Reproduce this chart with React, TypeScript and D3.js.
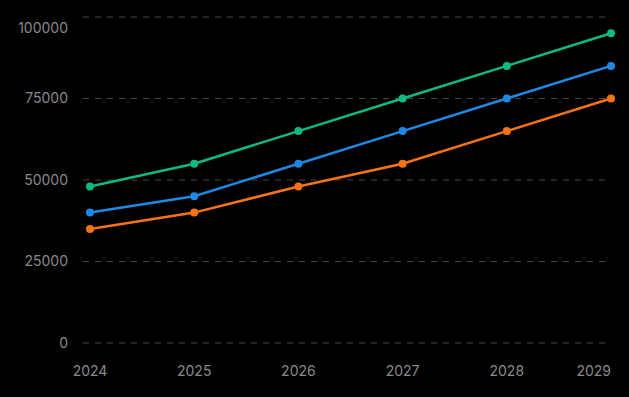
import React, { useRef, useEffect } from "react";
import * as d3 from "d3";

const years = [2024, 2025, 2026, 2027, 2028, 2029];
const yTicks = [0, 25000, 50000, 75000, 100000];
const greenSeries = [48000, 55000, 65000, 75000, 85000, 95000];
const blueSeries = [40000, 45000, 55000, 65000, 75000, 85000];
const orangeSeries = [35000, 40000, 48000, 55000, 65000, 75000];

const series = [
    { name: "green", values: greenSeries, color: "#10b981" },
    { name: "blue", values: blueSeries, color: "#1e88e5" },
    { name: "orange", values: orangeSeries, color: "#f97316" },
];

const W = 629;
const H = 397;

const App = () => {
    const svgRef = useRef<SVGSVGElement | null>(null);

    useEffect(() => {
        if (!svgRef.current) return;
        const svg = d3.select(svgRef.current);
        svg.selectAll("*").remove();

        const margin = { top: 17, right: 18, bottom: 54, left: 90 };
        const gridLeft = 83;

        const x = d3.scaleLinear()
            .domain(d3.extent(years) as [number, number])
            .range([margin.left, W - margin.right]);

        const y = d3.scaleLinear()
            .domain([0, 100000])
            .range([H - margin.bottom, margin.top]);

        svg.append("rect")
            .attr("width", W)
            .attr("height", H)
            .attr("fill", "#000");

        // grid
        svg.append("g")
            .selectAll("line")
            .data(yTicks)
            .enter().append("line")
            .attr("x1", gridLeft)
            .attr("x2", W - margin.right)
            .attr("y1", d => y(d))
            .attr("y2", d => y(d))
            .attr("stroke", "#444")
            .attr("stroke-width", 1)
            .attr("stroke-dasharray", "6,6");

        // y labels (top one kept inside the plot)
        svg.append("g")
            .selectAll("text")
            .data(yTicks)
            .enter().append("text")
            .attr("x", 68)
            .attr("y", d => Math.max(y(d), margin.top + 11))
            .attr("dy", "0.35em")
            .attr("text-anchor", "end")
            .style("font-family", "Inter, sans-serif")
            .style("font-size", "14px")
            .style("fill", "#8a8a8a")
            .text(d => String(d));

        // x labels (last one kept inside the plot)
        svg.append("g")
            .selectAll("text")
            .data(years)
            .enter().append("text")
            .attr("x", d => x(d))
            .attr("y", H - 21)
            .attr("text-anchor", (d, i) => (i === years.length - 1 ? "end" : "middle"))
            .style("font-family", "Inter, sans-serif")
            .style("font-size", "14px")
            .style("fill", "#8a8a8a")
            .text(d => String(d));

        const line = d3.line<number>()
            .x((d, i) => x(years[i]))
            .y(d => y(d));

        series.forEach(s => {
            svg.append("path")
                .datum(s.values)
                .attr("fill", "none")
                .attr("stroke", s.color)
                .attr("stroke-width", 2.5)
                .attr("d", line);

            svg.append("g")
                .selectAll("circle")
                .data(s.values)
                .enter().append("circle")
                .attr("cx", (d, i) => x(years[i]))
                .attr("cy", d => y(d))
                .attr("r", 4)
                .attr("fill", s.color);
        });
    }, []);

    return (
        <svg
            ref={svgRef}
            width={W}
            height={H}
            style={{ position: "absolute", left: 0, top: 0, display: "block" }}
        ></svg>
    );
};

export default App;
